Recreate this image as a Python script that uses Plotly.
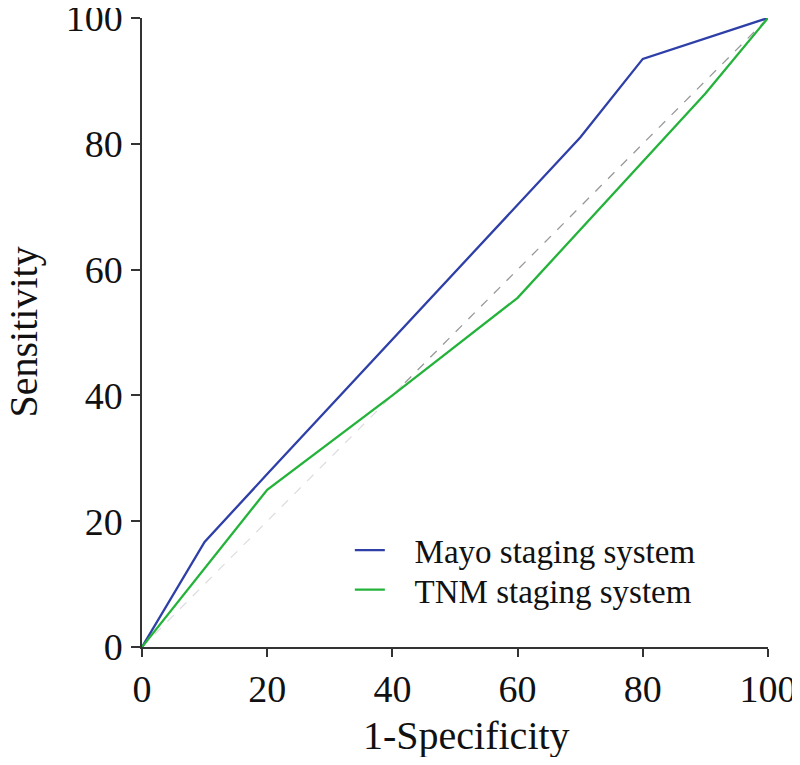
import plotly.graph_objects as go

# ROC curves (1-specificity vs sensitivity, in %)
mayo_x = [0, 10, 20, 70, 80, 100]
mayo_y = [0, 16.7, 27.5, 81, 93.5, 100]

tnm_x = [0, 20, 40, 60, 90, 100]
tnm_y = [0, 25, 40, 55.5, 88, 100]

# reference diagonal: faint in the lower part, darker dashed in the upper part
diag_lo_x = [0, 42]
diag_lo_y = [0, 42]
diag_hi_x = [42, 100]
diag_hi_y = [42, 100]

ticks = [0, 20, 40, 60, 80, 100]

font = "Liberation Serif, Times New Roman, serif"
pad = "\u00a0\u00a0\u00a0"

fig = go.Figure()
fig.add_trace(go.Scatter(x=diag_lo_x, y=diag_lo_y, mode='lines', showlegend=False,
                         line=dict(color='#dcdcdc', width=1.2, dash='dash'), hoverinfo='skip'))
fig.add_trace(go.Scatter(x=diag_hi_x, y=diag_hi_y, mode='lines', showlegend=False,
                         line=dict(color='#999999', width=1.3, dash='dash'), hoverinfo='skip'))
fig.add_trace(go.Scatter(x=mayo_x, y=mayo_y, mode='lines', name=pad + 'Mayo staging system',
                         line=dict(color='#2e3fa8', width=2.3), legend='legend'))
fig.add_trace(go.Scatter(x=tnm_x, y=tnm_y, mode='lines', name=pad + 'TNM staging system',
                         line=dict(color='#24b33a', width=2.3), legend='legend2'))

axis = dict(range=[0, 100], tickvals=ticks, showline=True, linecolor='#333333', linewidth=1.5,
            ticks='outside', tickwidth=1.5, tickcolor='#333333', automargin=False,
            showgrid=False, zeroline=False, tickfont=dict(size=38, color='#111111'),
            ticklabeloverflow='allow')

leg = dict(xanchor='left', yanchor='middle', bgcolor='rgba(0,0,0,0)',
           font=dict(size=33), itemwidth=30)

# the page body adds an 8px offset, so the figure is kept smaller than the window
fig.update_layout(
    width=784, height=749,
    margin=dict(l=134, r=24, t=10, b=110),
    plot_bgcolor='white', paper_bgcolor='white',
    font=dict(family=font, color='#111111'),
    xaxis=dict(axis, ticklen=8, ticklabelstandoff=0),
    yaxis=dict(axis, ticklen=9, ticklabelstandoff=1),
    legend=dict(leg, x=0.332, y=0.154),
    legend2=dict(leg, x=0.332, y=0.091),
    annotations=[
        dict(text='Sensitivity', xref='paper', yref='paper', x=0, y=0.5, xshift=-119,
             xanchor='center', yanchor='middle', textangle=-90, showarrow=False,
             font=dict(size=40)),
        dict(text='1-Specificity', xref='paper', yref='paper', x=0.5, y=0, xshift=11,
             yshift=-88, xanchor='center', yanchor='middle', showarrow=False,
             font=dict(size=40)),
    ],
)

fig.write_html("out.html")
